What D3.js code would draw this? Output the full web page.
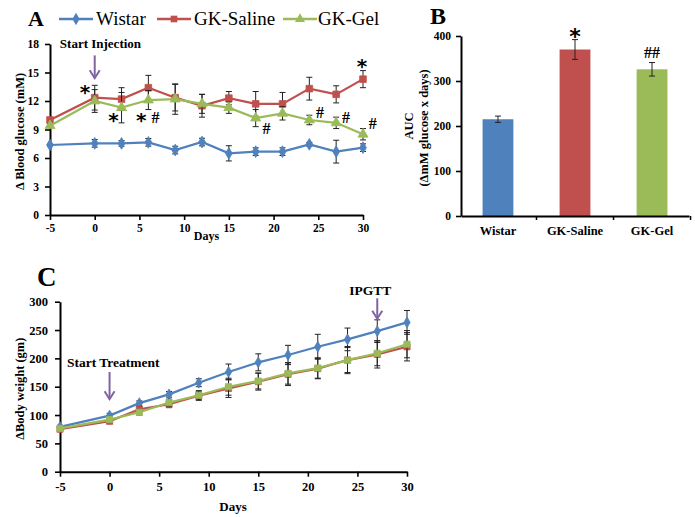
<!DOCTYPE html>
<html><head><meta charset="utf-8">
<script src="https://cdn.jsdelivr.net/npm/d3@7"></script>
<style>
body{margin:0;background:#fff}
text{font-family:"Liberation Serif","Times New Roman",serif;fill:#000}
</style>
</head><body><svg id="chart" width="695" height="517"></svg>
<script>
// ---------- DATA ----------
const seriesNames = ["Wistar", "GK-Saline", "GK-Gel"];
const daysA = [-5, 0, 3, 6, 9, 12, 15, 18, 21, 24, 27, 30];
const wistarA = [7.37, 7.54, 7.54, 7.65, 6.84, 7.68, 6.49, 6.67, 6.67, 7.44, 6.67, 7.09];
const wistarAErr = [0.1, 0.4, 0.3, 0.4, 0.4, 0.4, 0.8, 0.4, 0.4, 0.2, 1.2, 0.4];
const salineA = [10.0, 12.35, 12.2, 13.4, 12.35, 11.5, 12.3, 11.7, 11.7, 13.3, 12.7, 14.3];
const salineAErr = [0.1, 1.3, 1.2, 1.3, 1.4, 1.2, 0.7, 1.3, 1.2, 1.2, 0.9, 0.9];
const gelA = [9.4, 12.0, 11.3, 12.1, 12.2, 11.7, 11.3, 10.2, 10.7, 10.0, 9.7, 8.5];
const gelAErr = [0.2, 1.2, 1.6, 1.0, 1.6, 1.0, 0.6, 0.9, 0.7, 0.5, 0.6, 0.6];
const ticksAX = [-5, 0, 5, 10, 15, 20, 25, 30];
const ticksAY = [0, 3, 6, 9, 12, 15, 18];
const notesA = [
  {day: -1.1, v: 13.3, t: "*"}, {day: 2.1, v: 10.3, t: "*"}, {day: 5.2, v: 10.3, t: "*"},
  {day: 6.8, v: 10.3, t: "#"}, {day: 19.2, v: 9.2, t: "#"}, {day: 25.2, v: 10.8, t: "#"},
  {day: 28.1, v: 10.3, t: "#"}, {day: 31.1, v: 9.7, t: "#"}, {day: 29.9, v: 16.0, t: "*"}
];

const categoriesB = ["Wistar", "GK-Saline", "GK-Gel"];
const aucB = [215, 370, 326];
const aucErrB = [7, 22, 15];
const ticksBY = [0, 100, 200, 300, 400];
const notesB = ["", "*", "##"];

const daysC = [-5, 0, 3, 6, 9, 12, 15, 18, 21, 24, 27, 30];
const wistarC = [79, 99, 121, 136.5, 157, 176, 193, 206, 220.5, 233.5, 248, 263.5];
const wistarCErr = [3, 4, 4, 5, 7, 14, 15, 17, 22, 20, 20, 21];
const salineC = [75, 89, 110, 119, 134, 147, 159, 172, 182, 197, 207, 220.5];
const salineCErr = [3, 4, 5, 6, 8, 16, 15, 20, 18, 24, 24, 25];
const gelC = [76.5, 92, 105, 122, 135, 150, 160, 173.5, 183, 197, 209, 225];
const gelCErr = [3, 4, 5, 6, 8, 15, 14, 19, 18, 22, 22, 24];
const ticksCX = [-5, 0, 5, 10, 15, 20, 25, 30];
const ticksCY = [0, 50, 100, 150, 200, 250, 300];

// ---------- STYLE ----------
const colors = ["#4F81BD", "#C0504D", "#9BBB59"];
const purple = "#8064A2";
const svg = d3.select("#chart");
const fmt = d => String(d);

function bold(sel) { return sel.style("font-weight", "bold"); }

function styleAxis(g, fs) {
  g.select(".domain").attr("stroke", "#000").attr("stroke-width", 2);
  g.selectAll(".tick line").attr("stroke", "#000").attr("stroke-width", 1.6);
  g.selectAll(".tick text").style("font-size", fs + "px").style("font-family", "Liberation Serif").style("font-weight", "bold").attr("fill", "#000");
}

function markerPath(kind, size) {
  const sym = kind === "diamond" ? d3.symbolDiamond : kind === "square" ? d3.symbolSquare : d3.symbolTriangle;
  return d3.symbol().type(sym).size(size)();
}

function drawSeries(g, x, y, days, vals, errs, color, marker, msize) {
  const pts = days.map((d, i) => ({d, v: vals[i], e: errs[i]}));
  const eb = g.append("g");
  pts.forEach(p => {
    const xx = x(p.d), y1 = y(p.v + p.e), y2 = y(p.v - p.e);
    eb.append("line").attr("x1", xx).attr("x2", xx).attr("y1", y1).attr("y2", y2).attr("stroke", "#222").attr("stroke-width", 1);
    [y1, y2].forEach(yy => eb.append("line").attr("x1", xx - 3).attr("x2", xx + 3).attr("y1", yy).attr("y2", yy).attr("stroke", "#222").attr("stroke-width", 1));
  });
  g.append("path").datum(pts)
    .attr("fill", "none").attr("stroke", color).attr("stroke-width", 2.2)
    .attr("d", d3.line().x(p => x(p.d)).y(p => y(p.v)));
  g.selectAll(null).data(pts).enter().append("path")
    .attr("d", markerPath(marker, msize))
    .attr("transform", p => `translate(${x(p.d)},${y(p.v)})`)
    .attr("fill", color).attr("stroke", color).attr("stroke-width", 0.8);
}

function arrow(g, xx, yTop, yBot) {
  g.append("line").attr("x1", xx).attr("x2", xx).attr("y1", yTop).attr("y2", yBot)
    .attr("stroke", purple).attr("stroke-width", 2);
  g.append("path").attr("d", `M${xx - 5},${yBot - 8} L${xx},${yBot} L${xx + 5},${yBot - 8}`)
    .attr("fill", "none").attr("stroke", purple).attr("stroke-width", 2);
}

function label(g, x, y, txt, fs, opts = {}) {
  const t = g.append("text").attr("x", x).attr("y", y).style("font-size", fs + "px")
    .style("font-weight", opts.normal ? "normal" : "bold").text(txt);
  if (opts.anchor) t.attr("text-anchor", opts.anchor);
  if (opts.family) t.style("font-family", opts.family);
  if (opts.rotate) t.attr("x", null).attr("y", null).attr("transform", `translate(${x},${y}) rotate(-90)`);
  return t;
}

// ---------- PANEL A ----------
{
  const x = d3.scaleLinear().domain([-5, 30]).range([50, 363]);
  const y = d3.scaleLinear().domain([0, 18]).range([215, 44]);
  const g = svg.append("g");
  const xa = g.append("g").attr("transform", `translate(0,${y(0)})`)
    .call(d3.axisBottom(x).tickValues(ticksAX).tickFormat(fmt).tickSize(5).tickSizeOuter(0).tickPadding(4));
  styleAxis(xa, 11.5);
  const ya = g.append("g").attr("transform", `translate(${x(-5)},0)`)
    .call(d3.axisLeft(y).tickValues(ticksAY).tickFormat(fmt).tickSize(5).tickSizeOuter(0).tickPadding(6));
  styleAxis(ya, 11.5);

  drawSeries(g, x, y, daysA, wistarA, wistarAErr, colors[0], "diamond", 40);
  drawSeries(g, x, y, daysA, salineA, salineAErr, colors[1], "square", 44);
  drawSeries(g, x, y, daysA, gelA, gelAErr, colors[2], "triangle", 44);

  notesA.forEach(n => {
    label(g, x(n.day), y(n.v) + (n.t === "*" ? 10 : 6), n.t, n.t === "*" ? 20 : 16,
      {anchor: "middle", family: n.t === "*" ? "DejaVu Sans" : "Liberation Serif"});
  });

  label(g, x(-3.9), y(17.55), "Start Injection", 13);
  arrow(g, x(0), y(16.8), y(14.4));

  label(g, 24, (y(0) + y(18)) / 2 + 2, "Δ Blood glucose (mM)", 12.5, {anchor: "middle", rotate: true});
  label(g, (x(-5) + x(30)) / 2, 240, "Days", 12, {anchor: "middle"});

  // panel letter and legend
  label(g, 28, 26, "A", 22);
  const leg = [{x0: 59, tx: 96}, {x0: 157, tx: 194}, {x0: 283, tx: 318}];
  const mk = ["diamond", "square", "triangle"];
  leg.forEach((l, i) => {
    g.append("line").attr("x1", l.x0).attr("x2", l.x0 + 34).attr("y1", 19).attr("y2", 19)
      .attr("stroke", colors[i]).attr("stroke-width", 2.5);
    g.append("path").attr("d", markerPath(mk[i], 44)).attr("transform", `translate(${l.x0 + 17},19)`)
      .attr("fill", colors[i]);
    label(g, l.tx, 25, seriesNames[i], 19, {normal: true});
  });
}

// ---------- PANEL B ----------
{
  const x = d3.scaleBand().domain(categoriesB).range([461, 689]).paddingInner(0.6).paddingOuter(0.28);
  const y = d3.scaleLinear().domain([0, 400]).range([216, 36]);
  const g = svg.append("g");
  g.selectAll(null).data(categoriesB).enter().append("rect")
    .attr("x", c => x(c)).attr("width", x.bandwidth())
    .attr("y", (c, i) => y(aucB[i])).attr("height", (c, i) => y(0) - y(aucB[i]))
    .attr("fill", (c, i) => colors[i]);
  categoriesB.forEach((c, i) => {
    const xx = x(c) + x.bandwidth() / 2, y1 = y(aucB[i] + aucErrB[i]), y2 = y(aucB[i] - aucErrB[i]);
    g.append("line").attr("x1", xx).attr("x2", xx).attr("y1", y1).attr("y2", y2).attr("stroke", "#222");
    [y1, y2].forEach(yy => g.append("line").attr("x1", xx - 3).attr("x2", xx + 3).attr("y1", yy).attr("y2", yy).attr("stroke", "#222"));
    if (notesB[i]) {
      label(g, xx, y1 - (notesB[i] === "*" ? -4 : 5), notesB[i], notesB[i] === "*" ? 22 : 16,
        {anchor: "middle", family: notesB[i] === "*" ? "DejaVu Sans" : "Liberation Serif"});
    }
  });
  const xa = g.append("g").attr("transform", `translate(0,${y(0)})`)
    .call(d3.axisBottom(x).tickSize(0).tickPadding(10));
  styleAxis(xa, 12.5);
  const step = x.step();
  categoriesB.forEach(c => {
    const bx = x(c) + x.bandwidth() / 2 + step / 2;
    g.append("line").attr("x1", bx).attr("x2", bx).attr("y1", y(0)).attr("y2", y(0) + 4).attr("stroke", "#000").attr("stroke-width", 1.5);
  });
  const ya = g.append("g").attr("transform", `translate(461,0)`)
    .call(d3.axisLeft(y).tickValues(ticksBY).tickFormat(fmt).tickSize(5).tickSizeOuter(0).tickPadding(5));
  styleAxis(ya, 11.5);

  label(g, 430, 24, "B", 24);
  label(g, 413, (y(0) + y(400)) / 2, "AUC", 12.5, {anchor: "middle", rotate: true});
  label(g, 428, (y(0) + y(400)) / 2 + 2, "(ΔmM glucose x days)", 12.5, {anchor: "middle", rotate: true});
}

// ---------- PANEL C ----------
{
  const x = d3.scaleLinear().domain([-5, 30]).range([60, 407]);
  const y = d3.scaleLinear().domain([0, 300]).range([471.7, 301.7]);
  const g = svg.append("g");
  const xa = g.append("g").attr("transform", `translate(0,${y(0)})`)
    .call(d3.axisBottom(x).tickValues(ticksCX).tickFormat(fmt).tickSize(5).tickSizeOuter(0).tickPadding(5));
  styleAxis(xa, 12.5);
  const ya = g.append("g").attr("transform", `translate(${x(-5)},0)`)
    .call(d3.axisLeft(y).tickValues(ticksCY).tickFormat(fmt).tickSize(5).tickSizeOuter(0).tickPadding(7));
  styleAxis(ya, 12.5);

  drawSeries(g, x, y, daysC, wistarC, wistarCErr, colors[0], "diamond", 34);
  drawSeries(g, x, y, daysC, salineC, salineCErr, colors[1], "square", 38);
  drawSeries(g, x, y, daysC, gelC, gelCErr, colors[2], "square", 38);

  label(g, x(-4.3), y(185), "Start Treatment", 13.5);
  arrow(g, x(0), y(176), y(128));
  label(g, x(26.3), y(311), "IPGTT", 13.5, {anchor: "middle"});
  arrow(g, x(27), y(306), y(270));

  label(g, 37, 286, "C", 27);
  label(g, 24, (y(0) + y(300)) / 2 + 2, "ΔBody weight (gm)", 12.5, {anchor: "middle", rotate: true});
  label(g, 233, 511, "Days", 13, {anchor: "middle"});
}
</script>
</body></html>
